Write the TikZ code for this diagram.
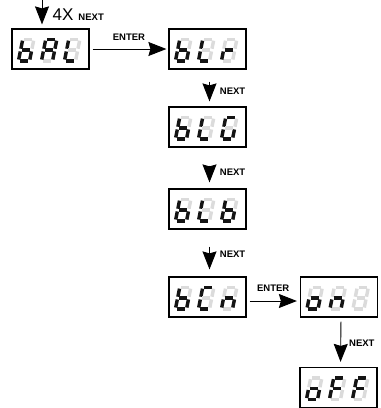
\documentclass[tikz,border=0pt]{standalone}
\usepackage{fontspec}
\setmainfont{Liberation Sans}
\usetikzlibrary{arrows.meta}

\tikzset{
  disp/.style={draw, line width=1.2pt, minimum width=77pt, minimum height=40pt, inner sep=0pt},
  seg0/.style={draw=gray!28},
  seg1/.style={draw=black!92},
  arr/.style={line width=0.9pt, -{Stealth[length=18pt,width=14pt,inset=2pt]}},
  keyname/.style={font=\fontsize{9.5}{9.5}\selectfont\bfseries, inner sep=0pt},
}

% one digit: bits for segments a b c d e f g
\def\segbits#1#2#3#4#5#6#7{%
  \begin{scope}[line width=3.4pt, shorten <=1.4pt, shorten >=1.4pt]
    \draw[seg#1] (1.7,23.3) -- (12.8,23.3); % a
    \draw[seg#2] (12.8,23.3) -- (12.8,12.5); % b
    \draw[seg#3] (12.8,12.5) -- (12.8,1.7); % c
    \draw[seg#4] (1.7,1.7) -- (12.8,1.7); % d
    \draw[seg#5] (1.7,1.7) -- (1.7,12.5); % e
    \draw[seg#6] (1.7,12.5) -- (1.7,23.3); % f
    \draw[seg#7] (1.7,12.5) -- (12.8,12.5); % g
  \end{scope}}
\newcommand{\digitat}[2]{%
  \begin{scope}[xshift={5pt+23pt*#1}, yshift=7pt, xslant=0.2]
    \segbits#2
  \end{scope}}
\newcommand{\showword}[4]{%
  \begin{scope}[shift={(#1.south west)}]
    \digitat{0}{#2}\digitat{1}{#3}\digitat{2}{#4}
  \end{scope}}

\begin{document}
\begin{tikzpicture}[x=1pt,y=1pt]
\useasboundingbox (0,0) rectangle (381,-408);

% displays
\node[disp] (bal) at (50.5,-49) {};
\node[disp] (blr) at (207.5,-49) {};
\node[disp] (blg) at (207.5,-127) {};
\node[disp] (blb) at (207.5,-209) {};
\node[disp] (bcn) at (207.5,-297) {};
\node[disp] (on) at (339,-297) {};
\node[disp] (off) at (338.5,-387.5) {};

% b=0011111 A=1110111 L=0001110 r=0000101 G=1011110
% C=1001110 n=0010101 o=0011101 F=1000111
\showword{bal}{0011111}{1110111}{0001110}
\showword{blr}{0011111}{0001110}{0000101}
\showword{blg}{0011111}{0001110}{1011110}
\showword{blb}{0011111}{0001110}{0011111}
\showword{bcn}{0011111}{1001110}{0010101}
\showword{on}{0011101}{0010101}{0000000}
\showword{off}{0011101}{1000111}{1000111}

% arrows
\coordinate (in) at (42,0);
\draw[arr, shorten >=4pt] (in) -- (in |- bal.north);
\node[anchor=base west, inner sep=0pt] (times) at (52.5,-20)
  {\fontsize{17}{17}\selectfont 4X\hspace{5pt}\fontsize{9.5}{9.5}\selectfont\bfseries NEXT};

\draw[arr, shorten <=3pt, shorten >=2pt] (bal.east) -- (blr.west)
  node[keyname, midway, above=8pt] (enter1) {ENTER};
\draw[arr, shorten <=12pt, shorten >=5pt] ([xshift=2pt]blr.south) -- ([xshift=2pt]blg.north)
  node[keyname, pos=0.58, right=10pt] (next1) {NEXT};
\draw[arr, shorten <=18pt, shorten >=6pt] ([xshift=2pt]blg.south) -- ([xshift=2pt]blb.north)
  node[keyname, pos=0.6, right=10pt] (next2) {NEXT};
\draw[arr, shorten <=17pt, shorten >=7pt] ([xshift=2pt]blb.south) -- ([xshift=2pt]bcn.north)
  node[keyname, pos=0.52, right=10pt] (next3) {NEXT};
\draw[arr, shorten <=3pt, shorten >=3pt] ([yshift=-4pt]bcn.east) -- ([yshift=-4pt]on.west)
  node[keyname, midway, above=9pt] (enter2) {ENTER};
\draw[arr, shorten <=4pt, shorten >=5pt] ([xshift=2pt]on.south) -- ([xshift=2pt]off.north)
  node[keyname, pos=0.52, right=8pt] (next4) {NEXT};

\end{tikzpicture}
\end{document}
